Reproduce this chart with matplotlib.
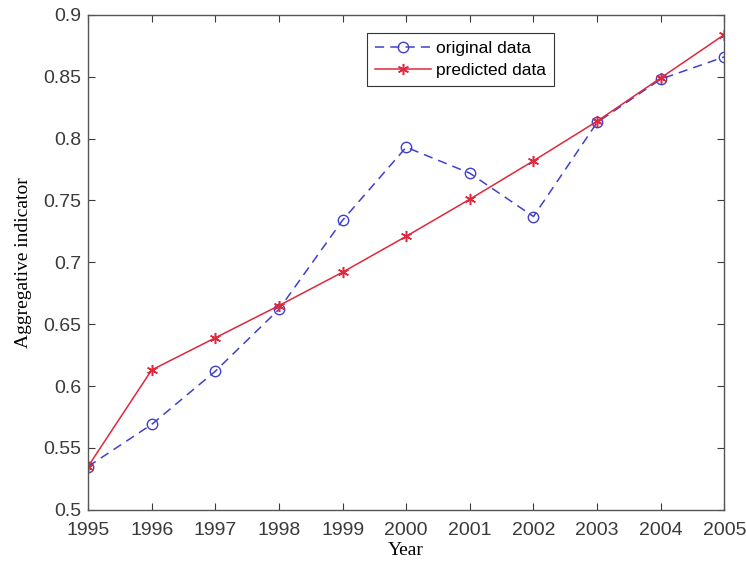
import matplotlib.pyplot as plt

years = [1995, 1996, 1997, 1998, 1999, 2000, 2001, 2002, 2003, 2004, 2005]
original = [0.535, 0.569, 0.612, 0.662, 0.734, 0.793, 0.772, 0.737, 0.813, 0.848, 0.866]
predicted = [0.535, 0.613, 0.639, 0.665, 0.692, 0.721, 0.751, 0.782, 0.814, 0.849, 0.884]

fig = plt.figure(figsize=(7.46, 5.69), dpi=100)
ax = fig.add_axes([0.118, 0.104, 0.853, 0.870])

ax.plot(years, original, '--o', color='#4040cc', lw=1.1, ms=7.5, mfc='none',
        mew=1.0, dashes=(6, 4), label='original data')
ax.plot(years, predicted, '-', marker=(6, 2, 0), color='#e0283c', lw=1.1, ms=8, mew=1.1,
        label='predicted data')

ax.set_xlim(1995, 2005)
ax.set_ylim(0.5, 0.9)
ax.set_xticks(years)
ax.set_yticks([0.5, 0.55, 0.6, 0.65, 0.7, 0.75, 0.8, 0.85, 0.9])
ax.set_yticklabels(['0.5', '0.55', '0.6', '0.65', '0.7', '0.75', '0.8', '0.85', '0.9'])
ax.tick_params(direction='in', top=True, right=True, length=5, width=0.8,
               labelsize=14, colors='#3a3a3a')
ax.tick_params(axis='x', pad=9)
ax.tick_params(axis='y', pad=5)
for lab in ax.get_xticklabels() + ax.get_yticklabels():
    lab.set_fontfamily('Liberation Sans')
for s in ax.spines.values():
    s.set_color('#555555')
    s.set_linewidth(1.0)

ax.set_xlabel('Year', family='Liberation Serif', fontsize=14, labelpad=2)
ax.set_ylabel('Aggregative indicator', family='Liberation Serif', fontsize=14, labelpad=8)

leg = ax.legend(loc='upper left', bbox_to_anchor=(0.4387, 0.9636), borderaxespad=0,
                fancybox=False, framealpha=1, edgecolor='#333333', borderpad=0.45,
                handlelength=3.2, handletextpad=0.3, labelspacing=0.42,
                prop={'family': 'Liberation Sans', 'size': 12.5})
leg.get_frame().set_linewidth(0.8)

fig.savefig('out.png', dpi=100)
